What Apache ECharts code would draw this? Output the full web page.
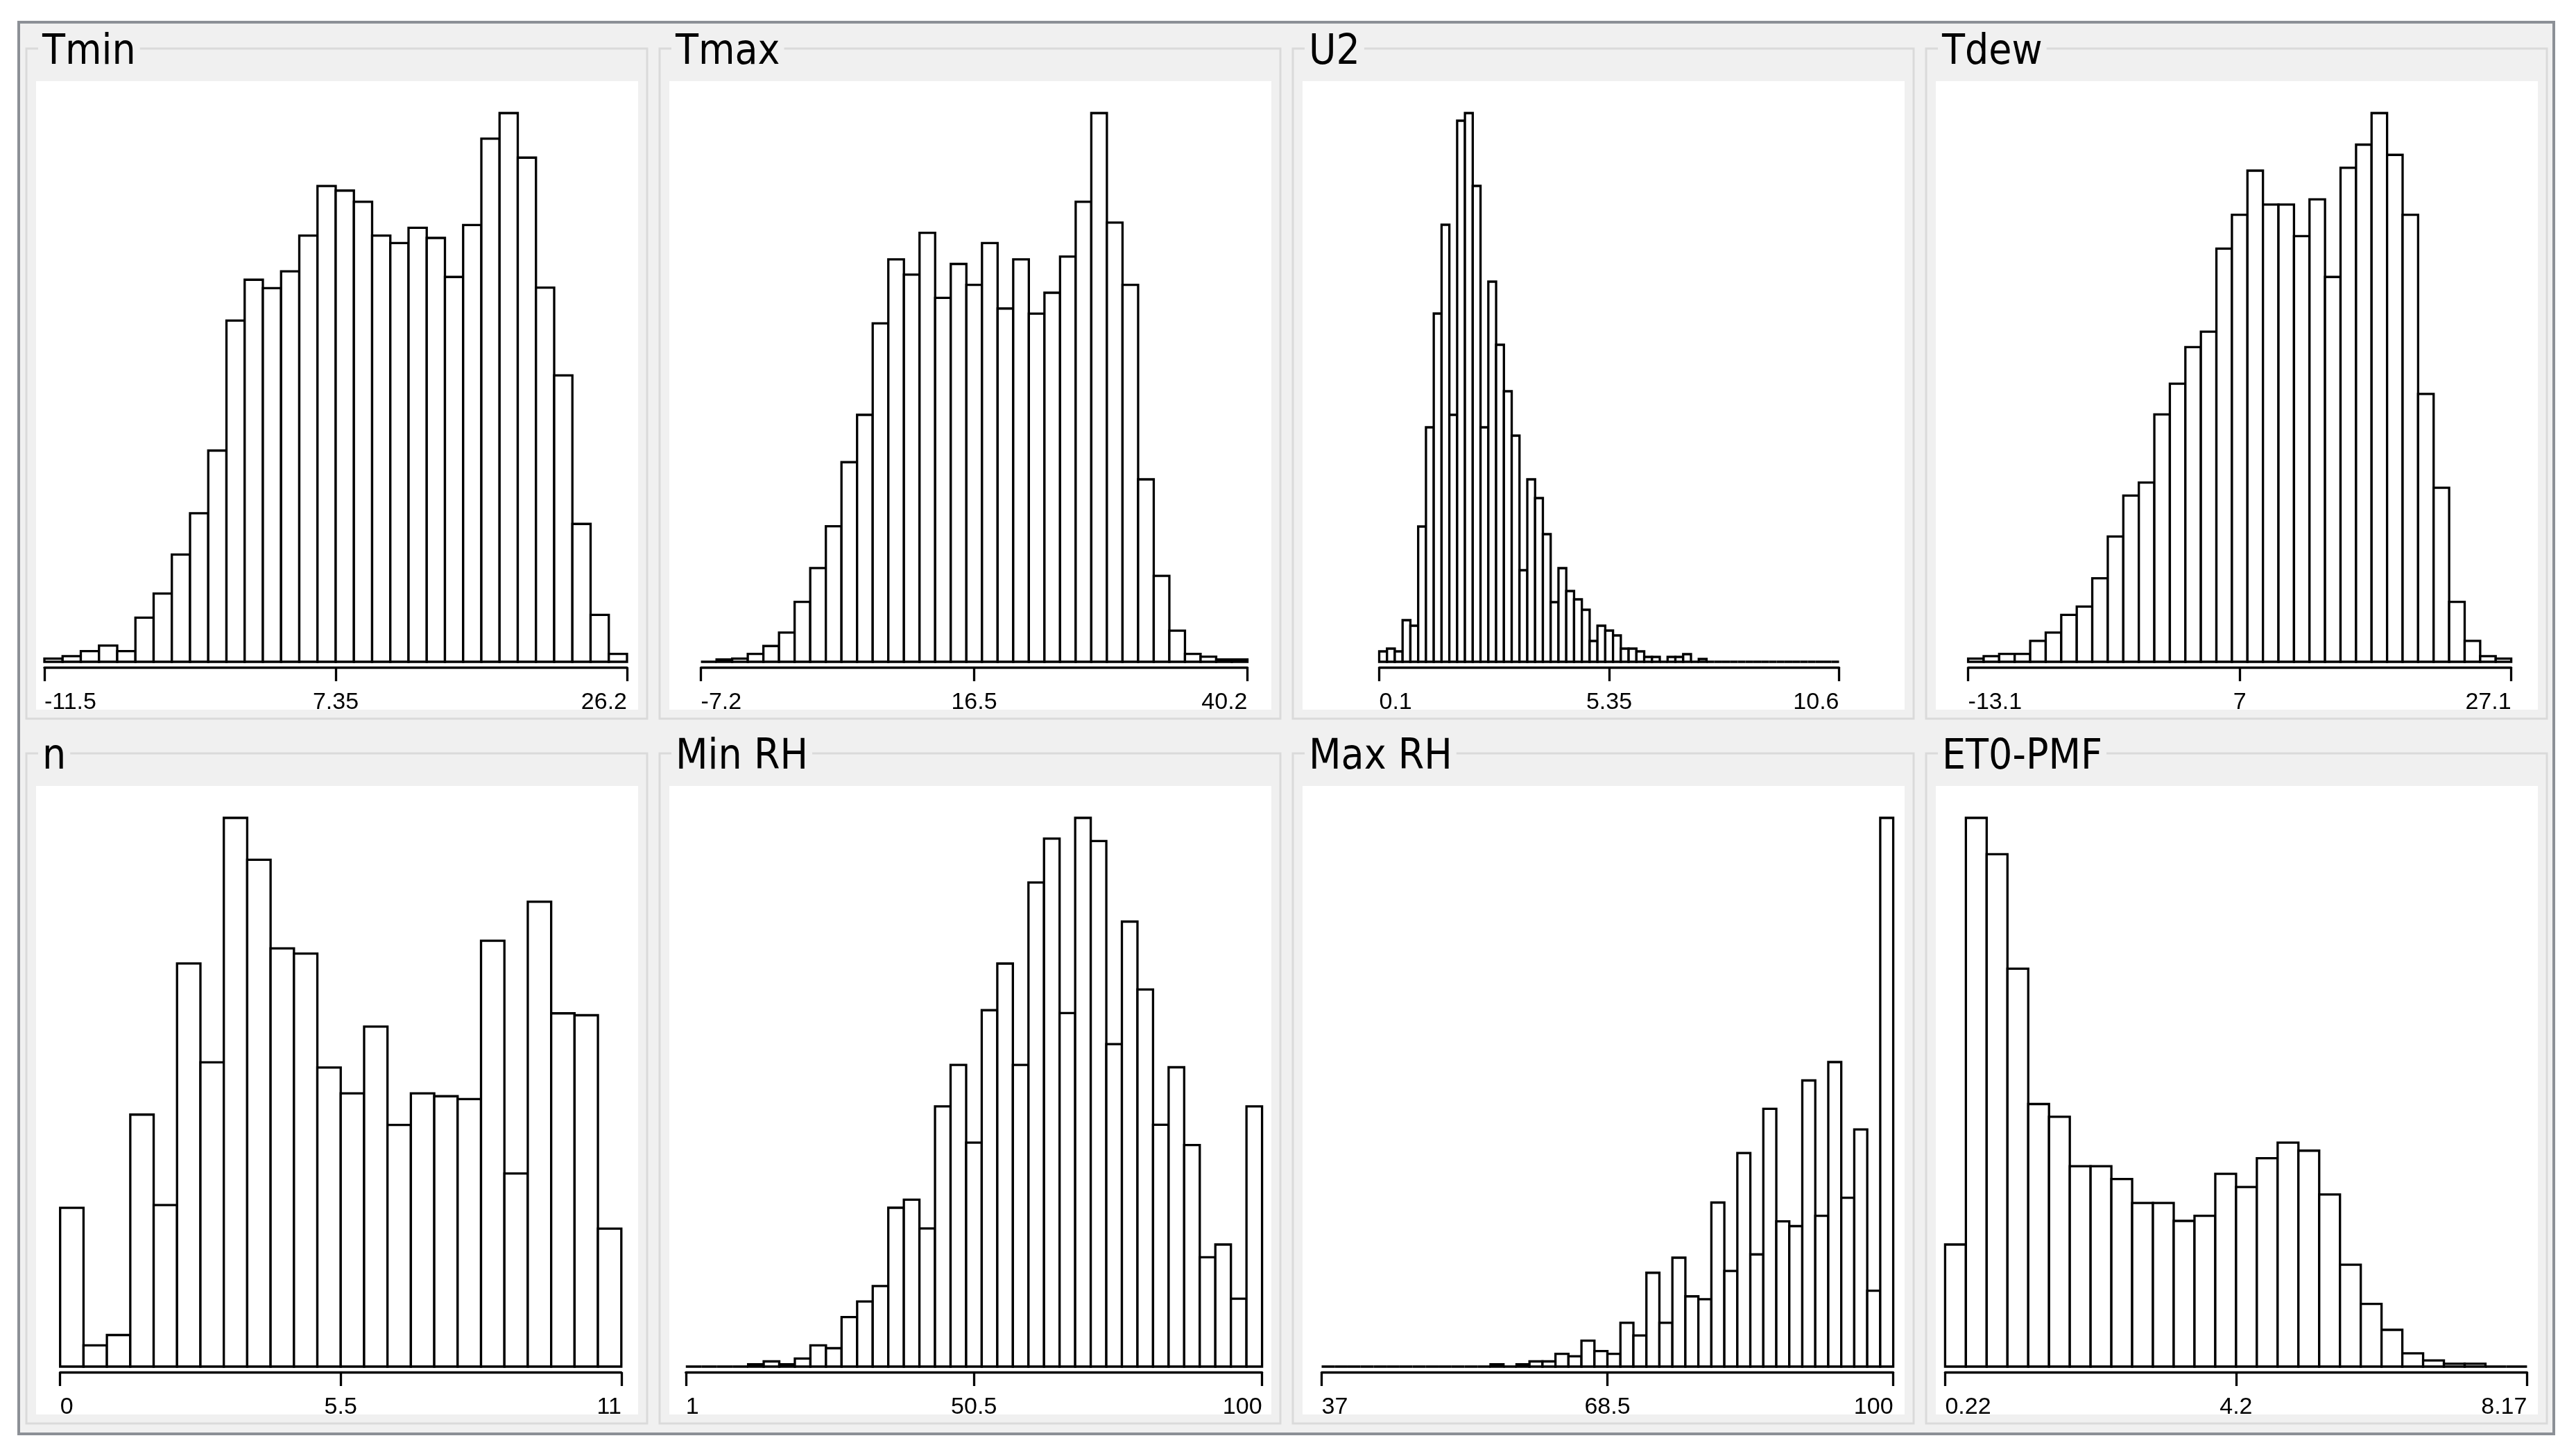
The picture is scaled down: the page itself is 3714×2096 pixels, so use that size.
<!DOCTYPE html>
<html><head><meta charset="utf-8">
<script src="https://cdn.jsdelivr.net/npm/echarts@6/dist/echarts.min.js"></script>
<style>html,body{margin:0;padding:0;background:#fff;}#c{width:3714px;height:2096px;}</style>
</head><body><div id="c"></div>
<script>
// ---- data (bar heights, relative counts) ----
const panelTitles = ['Tmin', 'Tmax', 'U2', 'Tdew', 'n', 'Min RH', 'Max RH', 'ET0-PMF'];
const axisMin = [-11.5, -7.2, 0.1, -13.1, 0, 1, 37, 0.22];
const axisMax = [26.2, 40.2, 10.6, 27.1, 11, 100, 100, 8.17];
const tickLabels = [
  ['-11.5', '7.35', '26.2'], ['-7.2', '16.5', '40.2'], ['0.1', '5.35', '10.6'], ['-13.1', '7', '27.1'],
  ['0', '5.5', '11'], ['1', '50.5', '100'], ['37', '68.5', '100'], ['0.22', '4.2', '8.17']
];
const tminCounts = [7,12,23,35,23,95,147,231,320,455,735,823,805,841,918,1025,1015,991,918,902,935,913,829,941,1127,1182,1086,806,617,297,101,17];
const tmaxCounts = [0,5,7,17,34,63,129,202,292,430,532,729,867,834,924,784,857,812,902,761,867,750,795,873,991,1182,946,812,393,185,67,17,11,5,5];
const u2Counts = [15,19,15,60,52,195,338,502,630,356,780,791,686,338,548,457,390,326,132,263,236,184,86,135,102,90,75,30,52,45,38,19,19,15,7,7,0,7,7,11,0,4,0,0,0,0,0,0,0,0,0,0,0,0,0,0,0,0,0];
const tdewCounts = [7,12,17,17,45,63,101,119,180,270,358,386,533,599,678,711,890,963,1058,985,985,917,996,829,1064,1114,1182,1092,963,577,375,129,45,12,7];
const nCounts = [337,45,67,535,343,856,646,1165,1076,888,877,635,580,722,513,580,574,568,904,410,987,750,746,293];
const minRhCounts = [0,0,0,0,5,11,5,17,45,39,105,138,171,337,354,293,552,640,475,756,855,640,1027,1120,750,1164,1115,684,944,800,513,635,470,232,259,144,552];
const maxRhCounts = [0,0,0,0,0,0,0,0,0,0,0,0,0,5,0,5,11,11,27,22,55,33,27,93,66,199,93,231,149,143,348,203,453,238,547,308,298,607,320,646,358,503,161,1164];
const et0Counts = [259,1164,1087,844,557,530,425,425,398,347,347,309,320,409,381,442,475,458,365,216,133,78,28,13,6,6,0,0];
const allCounts = [tminCounts, tmaxCounts, u2Counts, tdewCounts, nCounts, minRhCounts, maxRhCounts, et0Counts];

// ---- layout (pixels) ----
const axisLeftPx  = [64, 1010.6, 1988.5, 2837.6, 86.7, 988.8, 1905.5, 2804.4];
const axisRightPx = [904, 1798.5, 2651.5, 3620.6, 895.8, 1819.6, 2729.6, 3643.4];
const colPitch = 913, rowPitch = 1016, gbX0 = 38, gbY0 = 70, gbW = 895, gbH = 966;

const chart = echarts.init(document.getElementById('c'));
const grids = [], xAxes = [], yAxes = [], series = [], graphics = [];

graphics.push({type: 'rect', z: -20, shape: {x: 27, y: 32, width: 3655, height: 2035},
  style: {fill: '#f0f0f0', stroke: '#8c9096', lineWidth: 4}});

for (let p = 0; p < 8; p++) {
  const col = p % 4, row = Math.floor(p / 4);
  const gx = gbX0 + colPitch * col, gy = gbY0 + rowPitch * row;
  graphics.push({type: 'rect', z: -19, shape: {x: gx, y: gy, width: gbW, height: gbH},
    style: {fill: null, stroke: '#dadada', lineWidth: 3}});
  graphics.push({type: 'rect', z: -18, shape: {x: gx + 14, y: gy + 47, width: 868, height: 906},
    style: {fill: '#ffffff', stroke: null}});
  graphics.push({type: 'text', z: -17, x: gx + 17, y: gy + 6,
    style: {text: panelTitles[p], font: '60px "DejaVu Sans Condensed", "DejaVu Sans", sans-serif',
      fill: '#000', verticalAlign: 'middle', align: 'left', backgroundColor: '#f0f0f0', padding: [0, 6, 0, 6]}});

  const mn = axisMin[p], mx = axisMax[p];
  const counts = allCounts[p];
  const w = (mx - mn) / counts.length;
  const data = counts.map((c, i) => [mn + i * w, mn + (i + 1) * w, c]);
  const ticks = [mn, (mn + mx) / 2, mx];
  const labels = tickLabels[p];

  grids.push({left: axisLeftPx[p], width: axisRightPx[p] - axisLeftPx[p], top: gy + 93, height: 791, containLabel: false});
  xAxes.push({
    type: 'value', gridIndex: p, min: mn, max: mx, interval: (mx - mn) / 2, position: 'bottom', offset: 8,
    axisLine: {show: true, onZero: false, lineStyle: {color: '#000', width: 3.3}},
    axisTick: {show: true, customValues: ticks, length: 20, inside: false, lineStyle: {color: '#000', width: 3.3}},
    axisLabel: {show: true, customValues: ticks, margin: 34, fontSize: 34, color: '#000',
      fontFamily: '"Liberation Sans", Arial, sans-serif', alignMinLabel: 'left', alignMaxLabel: 'right',
      formatter: function (v) {
        let best = 0, bd = Infinity;
        ticks.forEach((t, i) => { const d = Math.abs(t - v); if (d < bd) { bd = d; best = i; } });
        return labels[best];
      }},
    splitLine: {show: false}
  });
  yAxes.push({type: 'value', gridIndex: p, min: 0, max: Math.max.apply(null, counts), show: false});
  series.push({
    type: 'custom', xAxisIndex: p, yAxisIndex: p, data: data, silent: true, z: 2,
    encode: {x: [0, 1], y: 2},
    renderItem: function (params, api) {
      const a = api.coord([api.value(0), api.value(2)]);
      const b = api.coord([api.value(1), 0]);
      return {type: 'rect', shape: {x: a[0], y: a[1], width: b[0] - a[0], height: b[1] - a[1]},
        style: {fill: '#ffffff', stroke: '#000000', lineWidth: 3.3}};
    }
  });
}

chart.setOption({
  animation: false,
  backgroundColor: '#ffffff',
  grid: grids, xAxis: xAxes, yAxis: yAxes, series: series,
  graphic: {elements: graphics}
});
</script></body></html>
